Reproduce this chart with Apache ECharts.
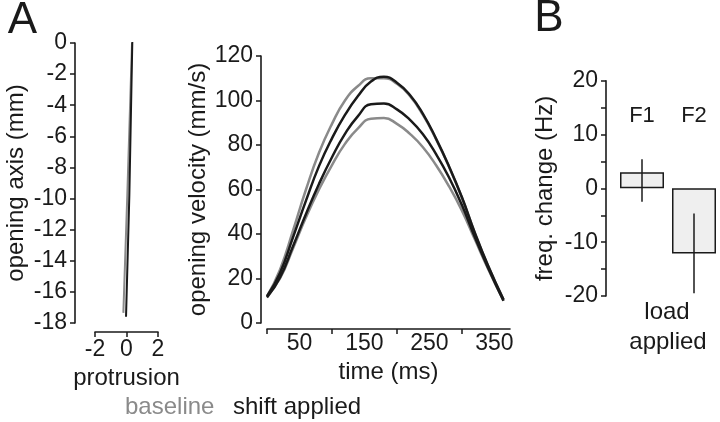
<!DOCTYPE html>
<html>
<head>
<meta charset="utf-8">
<script src="https://cdn.jsdelivr.net/npm/echarts@6/dist/echarts.min.js"></script>
<style>
  html, body { margin: 0; padding: 0; background: #fff; }
  #chart { width: 720px; height: 422px; }
</style>
</head>
<body>
<div id="chart"></div>
<script>
// A (left): jaw path, protrusion vs opening axis (mm)
const pathBaseline = [[0.35, 0], [0.05, -9.8], [-0.2, -17.35]];
const pathShift = [[0.37, 0.15], [0.18, -9.8], [-0.03, -17.6]];

// A (right): opening velocity (mm/s) over time (ms)
const timeMs = [0, 20, 40, 60, 80, 100, 120, 140, 160, 180, 200, 220, 240, 260, 280, 300, 320, 340, 364];
const velBaselineHigh = [12, 24, 41.5, 60, 76.5, 89.5, 100, 106.5, 110, 110, 107.5, 102, 93.5, 82.7, 70.3, 56.3, 40.3, 25.8, 10.5];
const velBaselineLow = [12, 20, 33.5, 47.5, 60, 71, 80.5, 87.5, 91.8, 92.1, 89.5, 85, 79, 71, 61.5, 50.5, 37.5, 24.5, 10];
const velShiftHigh = [12, 22.5, 38.5, 55, 70.5, 83, 93.5, 102, 108.5, 110.7, 108, 102.5, 94, 83, 70.5, 56.5, 40.5, 26, 10.5];
const velShiftLow = [11.5, 20.5, 34.5, 49, 62.5, 74.5, 85, 93, 98.3, 98.6, 96, 91.3, 84.8, 76, 65.5, 53, 38.5, 25, 10];

// B: formant frequency change (Hz) with load applied
const formants = ['F1', 'F2'];
const freqChange = [3.0, -12.1];
const freqErrLow = [-2.5, -19.5];
const freqErrHigh = [5.4, -4.65];

const FONT = "'Liberation Sans', Arial, Helvetica, sans-serif";
const INK = '#1a1a1a';
const GREY = '#8a8a8a';

const toXY = (ys) => timeMs.map((t, i) => [t, ys[i]]);

const axisLine = () => ({ show: true, onZero: false, lineStyle: { color: INK, width: 1.6 } });
const axisTick = (extra) => Object.assign({ show: true, inside: false, length: 5, lineStyle: { color: INK, width: 1.5 } }, extra);
const tickLabel = (extra) => Object.assign({ color: INK, fontSize: 23, fontFamily: FONT }, extra);
const nameStyle = () => ({ color: INK, fontSize: 24, fontFamily: FONT });

const chart = echarts.init(document.getElementById('chart'));

const option = {
  animation: false,
  backgroundColor: '#fff',
  grid: [
    { left: 95, top: 43, width: 63, height: 280 },
    { left: 267, top: 56, width: 243, height: 267 },
    { left: 616, top: 80.7, width: 104, height: 215.3 }
  ],
  xAxis: [
    {
      gridIndex: 0, type: 'value', min: -2, max: 2, interval: 2, offset: 9,
      axisLine: axisLine(), axisTick: axisTick(), splitLine: { show: false },
      axisLabel: tickLabel({ margin: 6 }),
      name: 'protrusion', nameLocation: 'middle', nameGap: 27, nameTextStyle: nameStyle()
    },
    {
      gridIndex: 1, type: 'value', min: 0, max: 374, offset: 6,
      axisLine: axisLine(), splitLine: { show: false },
      axisTick: axisTick({ customValues: [0, 100, 200, 300] }),
      axisLabel: tickLabel({ margin: 3, customValues: [50, 150, 250, 350] }),
      name: 'time (ms)', nameLocation: 'middle', nameGap: 30, nameTextStyle: nameStyle()
    },
    {
      gridIndex: 2, type: 'category', data: formants, position: 'top', offset: -46.5,
      axisLine: { show: false }, axisTick: { show: false }, splitLine: { show: false },
      axisLabel: tickLabel({ margin: 0, fontSize: 22 })
    }
  ],
  yAxis: [
    {
      gridIndex: 0, type: 'value', min: -18, max: 0, interval: 2, offset: 20,
      axisLine: axisLine(), axisTick: axisTick(), splitLine: { show: false },
      axisLabel: tickLabel({ margin: 8 }),
      name: 'opening axis (mm)', nameLocation: 'middle', nameRotate: 90, nameGap: 47, nameTextStyle: nameStyle()
    },
    {
      gridIndex: 1, type: 'value', min: 0, max: 120, interval: 20, offset: 6,
      axisLine: axisLine(), axisTick: axisTick(), splitLine: { show: false },
      axisLabel: tickLabel({ margin: 8 }),
      name: 'opening velocity (mm/s)', nameLocation: 'middle', nameRotate: 90, nameGap: 44, nameTextStyle: nameStyle()
    },
    {
      gridIndex: 2, type: 'value', min: -20, max: 20, interval: 5, offset: 10,
      axisLine: axisLine(), axisTick: axisTick(), splitLine: { show: false },
      axisLabel: tickLabel({ margin: 8, formatter: (v) => (v % 10 === 0 ? String(v) : '') }),
      name: 'freq. change (Hz)', nameLocation: 'middle', nameRotate: 90, nameGap: 49, nameTextStyle: nameStyle()
    }
  ],
  series: [
    // jaw path
    { type: 'line', xAxisIndex: 0, yAxisIndex: 0, data: pathBaseline, showSymbol: false, smooth: true,
      lineStyle: { color: GREY, width: 2 }, z: 2 },
    { type: 'line', xAxisIndex: 0, yAxisIndex: 0, data: pathShift, showSymbol: false, smooth: true,
      lineStyle: { color: INK, width: 2 }, z: 3 },
    // velocity profiles, baseline underneath
    { type: 'line', xAxisIndex: 1, yAxisIndex: 1, data: toXY(velBaselineHigh), showSymbol: false, smooth: true,
      lineStyle: { color: GREY, width: 2.5 }, z: 2 },
    { type: 'line', xAxisIndex: 1, yAxisIndex: 1, data: toXY(velBaselineLow), showSymbol: false, smooth: true,
      lineStyle: { color: GREY, width: 2.5 }, z: 2 },
    { type: 'line', xAxisIndex: 1, yAxisIndex: 1, data: toXY(velShiftHigh), showSymbol: false, smooth: true,
      lineStyle: { color: INK, width: 2.5 }, z: 3 },
    { type: 'line', xAxisIndex: 1, yAxisIndex: 1, data: toXY(velShiftLow), showSymbol: false, smooth: true,
      lineStyle: { color: INK, width: 2.5 }, z: 3 },
    // formant bars
    { type: 'bar', xAxisIndex: 2, yAxisIndex: 2, data: freqChange, barWidth: 44,
      itemStyle: { color: '#efefef', borderColor: INK, borderWidth: 1.5 } },
    // error bars
    {
      type: 'custom', xAxisIndex: 2, yAxisIndex: 2, z: 5,
      data: formants.map((f, i) => [i, freqErrLow[i], freqErrHigh[i]]),
      encode: { x: 0, y: [1, 2] },
      renderItem: (params, api) => {
        const i = api.value(0);
        const lo = api.coord([i, api.value(1)]);
        const hi = api.coord([i, api.value(2)]);
        return {
          type: 'line',
          shape: { x1: lo[0], y1: lo[1], x2: hi[0], y2: hi[1] },
          style: { stroke: INK, lineWidth: 1.5 }
        };
      }
    }
  ],
  graphic: [
    { type: 'text', x: 22.5, y: 21, style: { text: 'A', font: '44px ' + FONT, fill: INK, align: 'center', verticalAlign: 'middle' } },
    { type: 'text', x: 549, y: 19, style: { text: 'B', font: '44px ' + FONT, fill: INK, align: 'center', verticalAlign: 'middle' } },
    { type: 'text', x: 125, y: 407, style: { text: 'baseline', font: '24px ' + FONT, fill: GREY, align: 'left', verticalAlign: 'middle' } },
    { type: 'text', x: 233, y: 407, style: { text: 'shift applied', font: '24px ' + FONT, fill: INK, align: 'left', verticalAlign: 'middle' } },
    { type: 'text', x: 667, y: 312, style: { text: 'load', font: '24px ' + FONT, fill: INK, align: 'center', verticalAlign: 'middle' } },
    { type: 'text', x: 668, y: 342, style: { text: 'applied', font: '24px ' + FONT, fill: INK, align: 'center', verticalAlign: 'middle' } }
  ]
};

chart.setOption(option);
</script>
</body>
</html>
